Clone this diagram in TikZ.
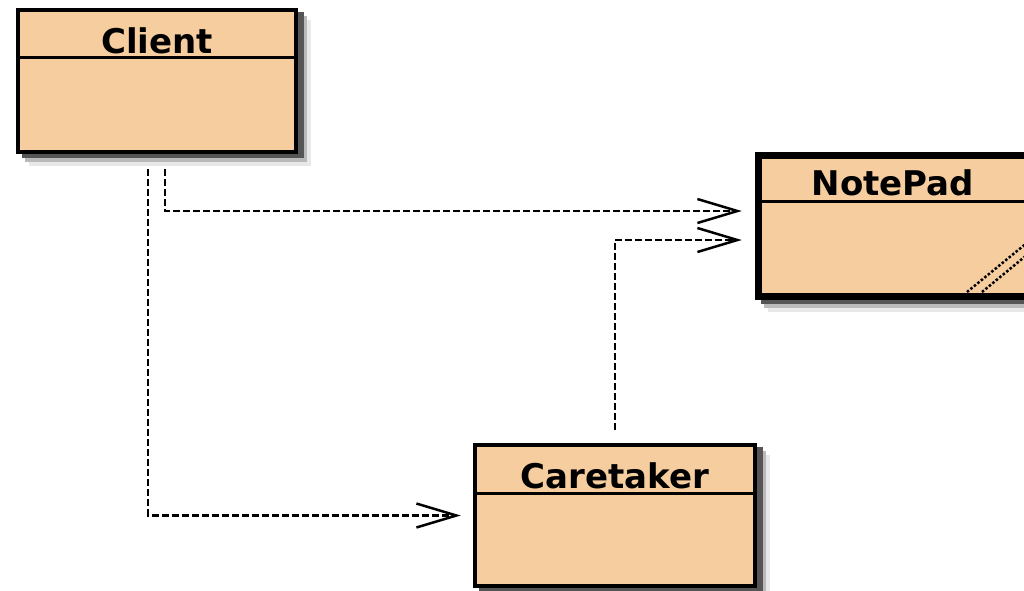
\documentclass[tikz,border=0pt]{standalone}
\usepackage{fontspec}
\setmainfont{DejaVu Sans}
\usetikzlibrary{arrows.meta}
\definecolor{peach}{RGB}{245,205,158}
\definecolor{shadeA}{RGB}{85,85,85}
\definecolor{shadeB}{RGB}{185,185,185}
\definecolor{shadeC}{RGB}{232,232,232}
\tikzset{
  shadowed/.style={
    preaction={draw=shadeC, fill=shadeC, transform canvas={xshift=13pt,yshift=-12pt}},
    preaction={draw=shadeB, fill=shadeB, transform canvas={xshift=9pt,yshift=-8pt}},
    preaction={draw=shadeA, fill=shadeA, transform canvas={xshift=6pt,yshift=-4pt}}},
  classbox/.style={shadowed, draw=black, fill=peach, rectangle, inner sep=0pt, line width=4.5pt},
  classname/.style={font=\bfseries\fontsize{34}{36}\selectfont, anchor=base, inner sep=0pt},
  sepline/.style={line width=3pt},
  depline/.style={line width=2.5pt, dash pattern=on 7pt off 3pt, -{Straight Barb[length=40pt,width=24pt,line width=2.5pt]}},
  grip/.style={line width=2.5pt, dash pattern=on 2.5pt off 2pt}
}
\begin{document}
\begin{tikzpicture}[x=1pt,y=-1pt]
\useasboundingbox (0,0) rectangle (1024,590);
\fill[white] (0,0) rectangle (1024,590);
\clip (0,0) rectangle (1024,590);

% Client
\node[classbox, minimum width=278pt, minimum height=142pt] (client) at (157,81) {};
\draw[sepline] ([shift={(0,50)}]client.north west) -- ([shift={(0,50)}]client.north east);
\node[classname] (clientname) at (157,53) {Client};

% NotePad
\node[classbox, line width=7.5pt, minimum width=269pt, minimum height=141pt] (notepad) at (893,226) {};
\draw[sepline] ([shift={(0,49.5)}]notepad.north west) -- ([shift={(0,49.5)}]notepad.north east);
\node[classname] (notepadname) at (893,195) {NotePad};
\draw[grip] (967,292) -- (1028,242);
\draw[grip] (982,292) -- (1028,254);

% Caretaker
\node[classbox, minimum width=280pt, minimum height=141pt] (caretaker) at (615,515.5) {};
\draw[sepline] ([shift={(0,51)}]caretaker.north west) -- ([shift={(0,51)}]caretaker.north east);
\node[classname] (caretakername) at (615,488) {Caretaker};

% dependencies
\draw[depline] ([shift={(8,15)}]client.south) |- ([shift={(-13,-15)}]notepad.west);
\draw[depline] ([shift={(-9,15)}]client.south) |- ([shift={(-12,0)}]caretaker.west);
\draw[depline] ([shift={(0,-13)}]caretaker.north) |- ([shift={(-13,14)}]notepad.west);
\end{tikzpicture}
\end{document}
